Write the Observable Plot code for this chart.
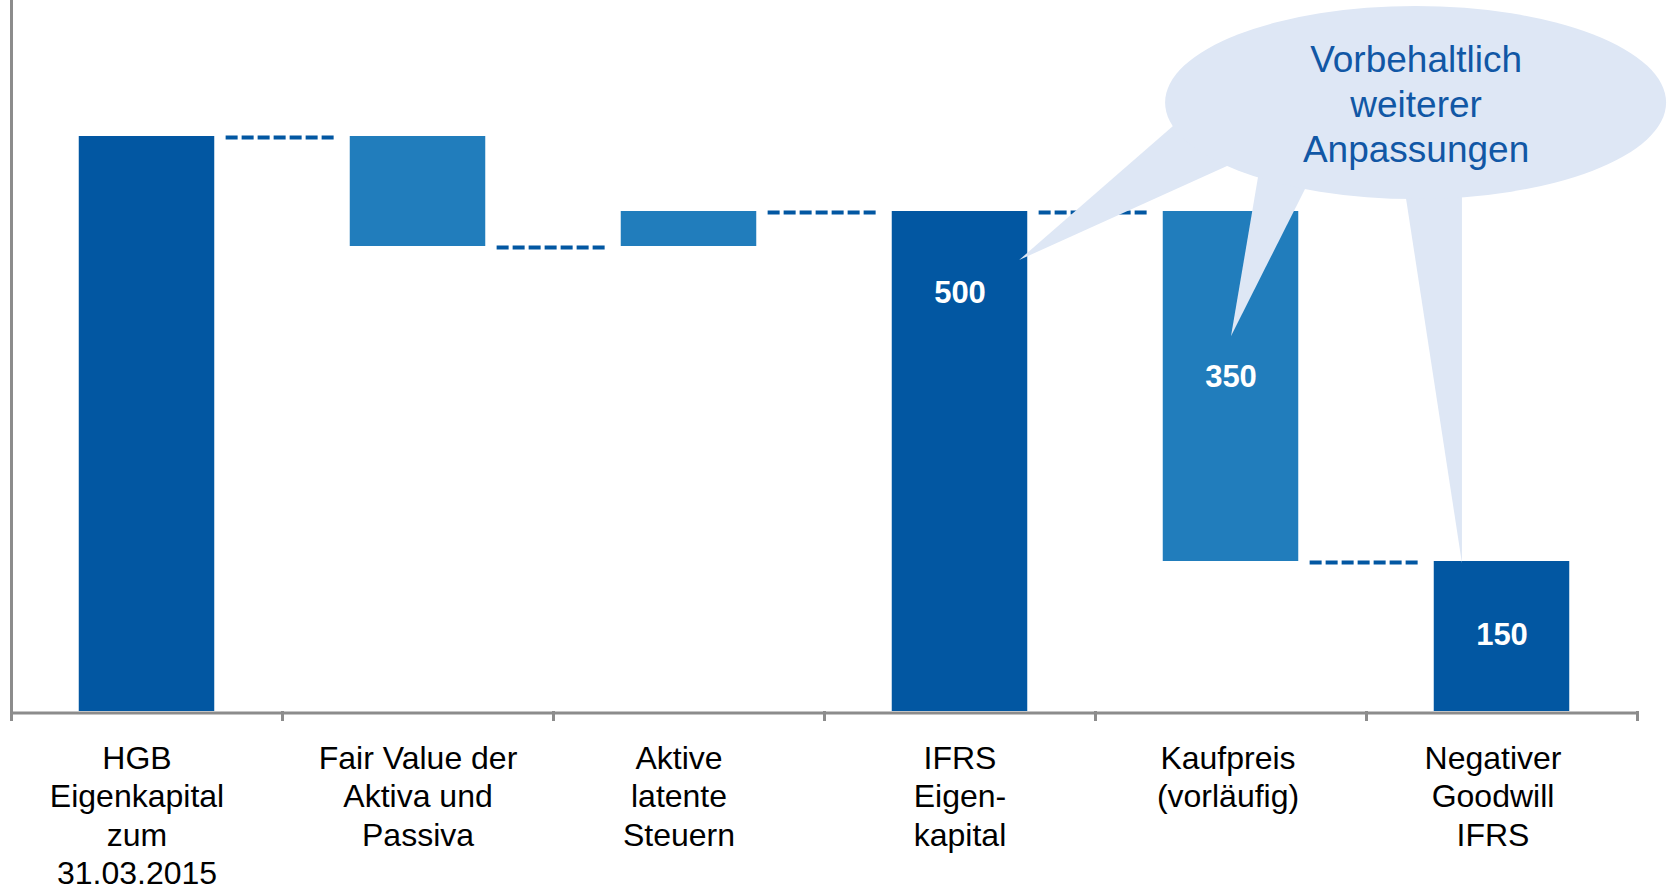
<!DOCTYPE html>
<html>
<head>
<meta charset="utf-8">
<script src="https://cdn.jsdelivr.net/npm/d3@7"></script>
<script src="https://cdn.jsdelivr.net/npm/@observablehq/plot@0.6"></script>
<style>
  html, body { margin: 0; padding: 0; background: #ffffff; }
  #chart svg { display: block; }
</style>
</head>
<body>
<div id="chart"></div>
<script>
// ---- data ----
const categories = [
  "HGB\nEigenkapital\nzum\n31.03.2015",
  "Fair Value der\nAktiva und\nPassiva",
  "Aktive\nlatente\nSteuern",
  "IFRS\nEigen-\nkapital",
  "Kaufpreis\n(vorläufig)",
  "Negativer\nGoodwill\nIFRS"
];
const kinds = ["total", "delta", "delta", "total", "delta", "total"];
const values = [575, -110, 35, 500, -350, 150];
const valueLabels = ["", "", "", "500", "350", "150"];
const bubbleText = ["Vorbehaltlich", "weiterer", "Anpassungen"];

// ---- styles ----
const DARK = "#0257A2";
const LIGHT = "#217DBC";
const AXIS = "#8C8C8C";
const BUBBLE = "#DEE7F5";
const BUBBLE_TEXT = "#1157A5";
const FONT = "'Liberation Sans', Arial, Helvetica, sans-serif";

// ---- waterfall layout ----
let run = 0;
const rows = categories.map((label, i) => {
  let lo, hi;
  if (kinds[i] === "total") {
    lo = 0; hi = values[i]; run = values[i];
  } else {
    const next = run + values[i];
    lo = Math.min(run, next); hi = Math.max(run, next); run = next;
  }
  return {i, label, kind: kinds[i], lo, hi, end: run, text: valueLabels[i]};
});
const links = rows.slice(0, -1).map(r => ({i: r.i, level: r.end}));

// value label placement (IFRS label sits near the top, others near the middle)
const labelY = r => r.i === 3 ? r.hi - 82 : (r.lo + r.hi) / 2 + (r.i === 4 ? 9 : 1);
// small horizontal nudges of the category labels (pixels), as in the original text boxes
const labelNudge = [-10, 0, -10, 0, -3, -9];

// speech bubble annotation in chart units (x: category index, y: value)
const bubble = {cx: 5.183, cy: 608.5, rx: 0.9244, ry: 96.5};
const tails = [
  {b1: [4.284, 584], b2: [4.487, 545], tip: [3.720, 451]},
  {b1: [4.601, 533], b2: [4.775, 522], tip: [4.502, 375]},
  {b1: [5.148, 512], b2: [5.354, 514], tip: [5.354, 148]}
];

function bubbleMark(index, scales) {
  const {x, y} = scales;
  const ns = "http://www.w3.org/2000/svg";
  const g = document.createElementNS(ns, "g");
  const ext = (tip, b) => [tip[0] + 1.08 * (b[0] - tip[0]), tip[1] + 1.08 * (b[1] - tip[1])];
  for (const t of tails) {
    const a = ext(t.tip, t.b1), b = ext(t.tip, t.b2);
    const p = document.createElementNS(ns, "path");
    p.setAttribute("d", `M${x(a[0])},${y(a[1])}L${x(t.tip[0])},${y(t.tip[1])}L${x(b[0])},${y(b[1])}Z`);
    p.setAttribute("fill", BUBBLE);
    g.appendChild(p);
  }
  const e = document.createElementNS(ns, "ellipse");
  e.setAttribute("cx", x(bubble.cx));
  e.setAttribute("cy", y(bubble.cy));
  e.setAttribute("rx", Math.abs(x(bubble.cx + bubble.rx) - x(bubble.cx)));
  e.setAttribute("ry", Math.abs(y(bubble.cy + bubble.ry) - y(bubble.cy)));
  e.setAttribute("fill", BUBBLE);
  g.appendChild(e);
  return g;
}

const catMarks = rows.map(r => Plot.text([r], {
  x: d => d.i + 0.5, text: "label", frameAnchor: "bottom",
  lineAnchor: "top", dy: 30, dx: labelNudge[r.i], fontSize: 32, lineHeight: 1.2, fill: "#000000"
}));

const chart = Plot.plot({
  width: 1668,
  height: 890,
  marginTop: 0,
  marginBottom: 179,
  marginLeft: 11,
  marginRight: 31,
  x: {domain: [0, 6], label: null},
  y: {domain: [0, 711], axis: null},
  color: {domain: ["total", "delta"], range: [DARK, LIGHT]},
  style: {fontFamily: FONT, background: "#ffffff", overflow: "visible"},
  marks: [
    // bars
    Plot.rectY(rows, {
      x1: r => r.i + 0.25, x2: r => r.i + 0.75,
      y1: "lo", y2: "hi", fill: "kind"
    }),
    // dashed connectors
    Plot.ruleY(links, {
      y: "level",
      x1: d => d.i + 0.75 + 0.042,
      x2: d => d.i + 1.25 - 0.045,
      stroke: DARK, strokeWidth: 4, strokeDasharray: "12,4", dy: 1
    }),
    // axes
    Plot.ruleX([0], {stroke: AXIS, strokeWidth: 3}),
    Plot.axisX({
      ticks: d3.range(7), tickSize: 10, tickFormat: () => "",
      stroke: AXIS, strokeWidth: 3, label: null
    }),
    Plot.ruleY([0], {stroke: AXIS, strokeWidth: 3, dy: 1.5}),
    // category labels
    ...catMarks,
    // value labels
    Plot.text(rows.filter(r => r.text), {
      x: r => r.i + 0.5, y: labelY, text: "text",
      fill: "#ffffff", fontSize: 31, fontWeight: "bold"
    }),
    // speech bubble
    bubbleMark,
    Plot.text([bubbleText.join("\n")], {
      x: () => bubble.cx, y: () => 671, text: d => d,
      lineAnchor: "top", fontSize: 37, lineHeight: 45 / 37, fill: BUBBLE_TEXT
    })
  ]
});

document.getElementById("chart").appendChild(chart);
</script>
</body>
</html>
